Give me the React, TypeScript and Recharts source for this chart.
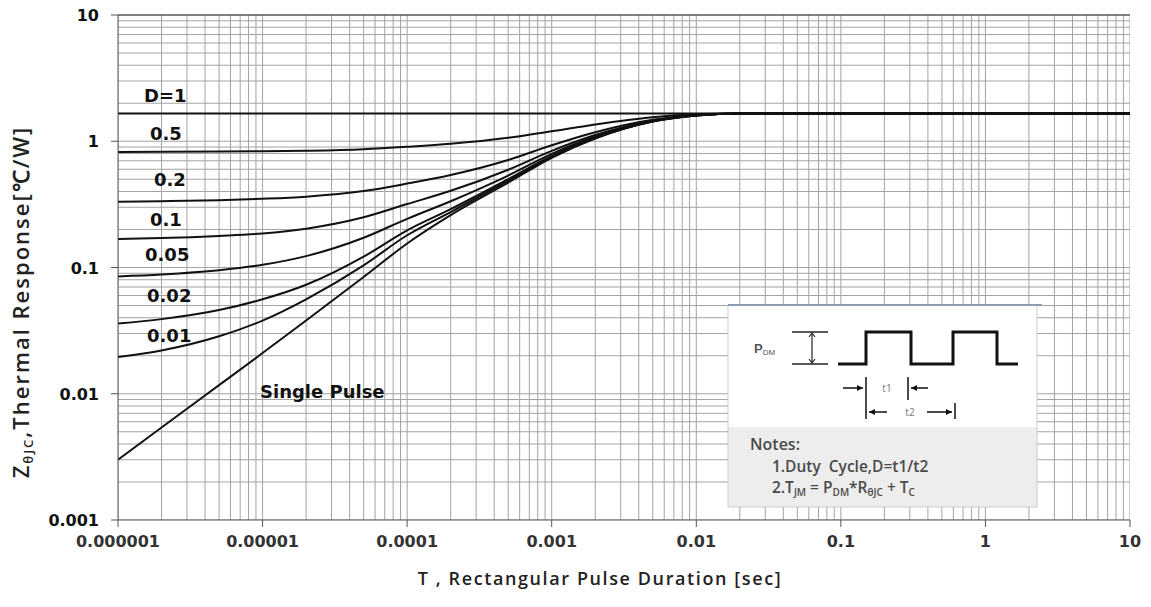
import React from 'react';
import { LineChart, Line, XAxis, YAxis, ReferenceLine } from 'recharts';

// pulse duration (s) and Zth(jc) per duty cycle
const timeSec = [1e-6, 2e-6, 5e-6, 1e-5, 2e-5, 5e-5, 1e-4, 2e-4, 5e-4, 1e-3, 2e-3, 5e-3, 1e-2, 2e-2, 10];
const dutyOne = [1.66, 1.66, 1.66, 1.66, 1.66, 1.66, 1.66, 1.66, 1.66, 1.66, 1.66, 1.66, 1.66, 1.66, 1.66];
const duty05 = [0.822, 0.824, 0.828, 0.833, 0.842, 0.866, 0.905, 0.955, 1.065, 1.2, 1.36, 1.55, 1.635, 1.66, 1.66];
const duty02 = [0.332, 0.335, 0.341, 0.35, 0.364, 0.403, 0.462, 0.54, 0.71, 0.93, 1.18, 1.48, 1.615, 1.66, 1.66];
const duty01 = [0.168, 0.171, 0.178, 0.186, 0.203, 0.25, 0.318, 0.405, 0.595, 0.84, 1.12, 1.455, 1.61, 1.66, 1.66];
const duty005 = [0.085, 0.088, 0.095, 0.105, 0.123, 0.172, 0.243, 0.335, 0.535, 0.795, 1.09, 1.445, 1.605, 1.66, 1.66];
const duty002 = [0.036, 0.039, 0.046, 0.056, 0.073, 0.122, 0.197, 0.29, 0.5, 0.765, 1.07, 1.44, 1.6, 1.66, 1.66];
const duty001 = [0.0195, 0.022, 0.0285, 0.038, 0.056, 0.104, 0.18, 0.275, 0.485, 0.755, 1.06, 1.435, 1.6, 1.66, 1.66];
const singlePulse = [0.003, 0.0054, 0.0117, 0.021, 0.038, 0.084, 0.155, 0.26, 0.47, 0.74, 1.05, 1.43, 1.6, 1.66, 1.66];

const xTicks = [1e-6, 1e-5, 1e-4, 1e-3, 1e-2, 1e-1, 1, 10];
const xTickLabels = ['0.000001', '0.00001', '0.0001', '0.001', '0.01', '0.1', '1', '10'];
const yTicks = [0.001, 0.01, 0.1, 1, 10];
const yTickLabels = ['0.001', '0.01', '0.1', '1', '10'];

const seriesKeys = ['d1', 'd05', 'd02', 'd01', 'd005', 'd002', 'd001', 'single'];
const seriesValues = [dutyOne, duty05, duty02, duty01, duty005, duty002, duty001, singlePulse];

const rows = timeSec.map((t, i) => {
  const row: Record<string, number> = { t };
  seriesKeys.forEach((k, j) => {
    row[k] = seriesValues[j][i];
  });
  return row;
});

// minor grid 1..9 per decade
const gridX: number[] = [];
for (let e = -6; e <= 1; e++) for (let m = 1; m <= 9; m++) if (m * 10 ** e <= 10) gridX.push(m * 10 ** e);
const gridY: number[] = [];
for (let e = -3; e <= 1; e++) for (let m = 1; m <= 9; m++) if (m * 10 ** e < 10) gridY.push(m * 10 ** e);

const curveLabels = [
  { text: 'D=1', x: 144, y: 102 },
  { text: '0.5', x: 150, y: 140 },
  { text: '0.2', x: 154, y: 186 },
  { text: '0.1', x: 150, y: 226 },
  { text: '0.05', x: 145, y: 261 },
  { text: '0.02', x: 147, y: 302 },
  { text: '0.01', x: 147, y: 342 },
  { text: 'Single Pulse', x: 260, y: 398 },
];

const tickFont = 'DejaVu Sans, sans-serif';

function XTick(props: any) {
  const { x, y, payload } = props;
  const idx = xTicks.indexOf(payload.value);
  return (
    <text x={x} y={y} dy={12} textAnchor="middle" fontFamily={tickFont} fontWeight="bold" fontSize={16} fill="#333">
      {idx >= 0 ? xTickLabels[idx] : ''}
    </text>
  );
}

function YTick(props: any) {
  const { x, y, payload } = props;
  const idx = yTicks.indexOf(payload.value);
  return (
    <text x={x} y={y} dy={6} textAnchor="end" fontFamily={tickFont} fontWeight="bold" fontSize={16} fill="#111">
      {idx >= 0 ? yTickLabels[idx] : ''}
    </text>
  );
}

function Arrow({ x1, x2, y }: { x1: number; x2: number; y: number }) {
  const dir = x2 > x1 ? 1 : -1;
  return (
    <g>
      <line x1={x1} y1={y} x2={x2} y2={y} stroke="#111" strokeWidth={1.5} />
      <path d={`M${x2},${y} L${x2 - dir * 6},${y - 3} L${x2 - dir * 6},${y + 3} Z`} fill="#111" />
    </g>
  );
}

function Overlay() {
  const noteFont = 'Open Sans, sans-serif';
  return (
    <svg width={1151} height={607} style={{ position: 'absolute', left: 0, top: 0, pointerEvents: 'none' }}>
      {curveLabels.map((l) => (
        <text key={l.text} x={l.x} y={l.y} fontFamily={tickFont} fontWeight="bold" fontSize={18} fill="#111">
          {l.text}
        </text>
      ))}

      {/* axis titles */}
      <text
        x={600}
        y={585}
        textAnchor="middle"
        fontFamily="Open Sans, sans-serif"
        fontWeight={600}
        fontSize={18}
        letterSpacing={1.6}
        fill="#222"
      >
        T , Rectangular Pulse Duration [sec]
      </text>
      <text
        transform="translate(29,302) rotate(-90)"
        textAnchor="middle"
        fontFamily="Open Sans, sans-serif"
        fontWeight={600}
        fontSize={22}
        letterSpacing={2}
        fill="#222"
      >
        Z<tspan fontSize={13} dy={4}>θJC</tspan>
        <tspan dy={-4}>,Thermal Response[℃/W]</tspan>
      </text>

      {/* inset: pulse diagram and notes */}
      <rect x={728} y={305} width={309} height={202} fill="#fff" />
      <rect x={728} y={427} width={309} height={80} fill="#ededed" />
      <rect x={728} y={305} width={309} height={202} fill="none" stroke="#c8ccd2" strokeWidth={1} />
      <line x1={728} y1={305} x2={1042} y2={305} stroke="#8c9bb0" strokeWidth={2} />
      <text x={754} y={353} fontFamily="Liberation Sans, sans-serif" fontWeight="bold" fontSize={13} fill="#555">
        P<tspan fontSize={8} fontWeight="normal" dy={2}>DM</tspan>
      </text>
      <line x1={792} y1={332} x2={828} y2={332} stroke="#222" strokeWidth={1.5} />
      <line x1={792} y1={364} x2={828} y2={364} stroke="#222" strokeWidth={1.5} />
      <line x1={812} y1={334} x2={812} y2={362} stroke="#222" strokeWidth={1.2} />
      <path d="M809,337 L812,333 L815,337 M809,359 L812,363 L815,359" stroke="#222" fill="none" strokeWidth={1.2} />
      <polyline
        points="838,364 866,364 866,332 911,332 911,364 953,364 953,332 997,332 997,364 1018,364"
        fill="none"
        stroke="#111"
        strokeWidth={3}
      />
      <line x1={866} y1={377} x2={866} y2={419} stroke="#111" strokeWidth={1.5} />
      <line x1={908} y1={377} x2={908} y2={400} stroke="#111" strokeWidth={1.5} />
      <line x1={955} y1={403} x2={955} y2={419} stroke="#111" strokeWidth={1.5} />
      <Arrow x1={843} x2={863} y={388} />
      <Arrow x1={928} x2={911} y={388} />
      <Arrow x1={887} x2={869} y={412} />
      <Arrow x1={927} x2={952} y={412} />
      <text x={887} y={392} textAnchor="middle" fontFamily={noteFont} fontSize={10} fill="#777">t1</text>
      <text x={910} y={416} textAnchor="middle" fontFamily={noteFont} fontSize={10} fill="#777">t2</text>

      <text x={750} y={450} fontFamily={noteFont} fontWeight={600} fontSize={16} fill="#4a4a4a">Notes:</text>
      <text x={772} y={472} fontFamily={noteFont} fontWeight={600} fontSize={15.5} fill="#4a4a4a">
        {'1.Duty\u00a0 Cycle,D=t1/t2'}
      </text>
      <text x={772} y={493} fontFamily={noteFont} fontWeight={600} fontSize={15.5} fill="#4a4a4a">
        2.T<tspan fontSize={10} dy={3}>JM</tspan>
        <tspan dy={-3}> = P</tspan>
        <tspan fontSize={10} dy={3}>DM</tspan>
        <tspan dy={-3}>*R</tspan>
        <tspan fontSize={10} dy={3}>θJC</tspan>
        <tspan dy={-3}> + T</tspan>
        <tspan fontSize={10} dy={3}>C</tspan>
      </text>
    </svg>
  );
}

export default function App() {
  return (
    <div style={{ position: 'relative', width: 1151, height: 607, background: '#fff' }}>
      <style>{'body{margin:0}'}</style>
      <LineChart width={1151} height={607} data={rows} margin={{ top: 15, right: 21, bottom: 0, left: 0 }}>
        {gridX.map((v) => (
          <ReferenceLine key={'gx' + v} x={v} stroke="#a3a3a3" strokeWidth={1} ifOverflow="hidden" />
        ))}
        {gridY.map((v) => (
          <ReferenceLine key={'gy' + v} y={v} stroke="#a3a3a3" strokeWidth={1} ifOverflow="hidden" />
        ))}
        <ReferenceLine y={10} stroke="#555" strokeWidth={1.5} />
        <XAxis
          dataKey="t"
          type="number"
          scale="log"
          domain={[1e-6, 10]}
          ticks={xTicks}
          allowDataOverflow
          height={87}
          tickSize={7}
          tickMargin={8}
          tick={<XTick />}
          stroke="#555"
        />
        <YAxis
          type="number"
          scale="log"
          domain={[0.001, 10]}
          ticks={yTicks}
          allowDataOverflow
          width={118}
          tickSize={7}
          tickMargin={12}
          tick={<YTick />}
          stroke="#555"
        />
        {seriesKeys.map((k) => (
          <Line
            key={k}
            dataKey={k}
            type="monotone"
            stroke="#111"
            strokeWidth={2}
            dot={false}
            activeDot={false}
            isAnimationActive={false}
          />
        ))}
      </LineChart>
      <Overlay />
    </div>
  );
}
